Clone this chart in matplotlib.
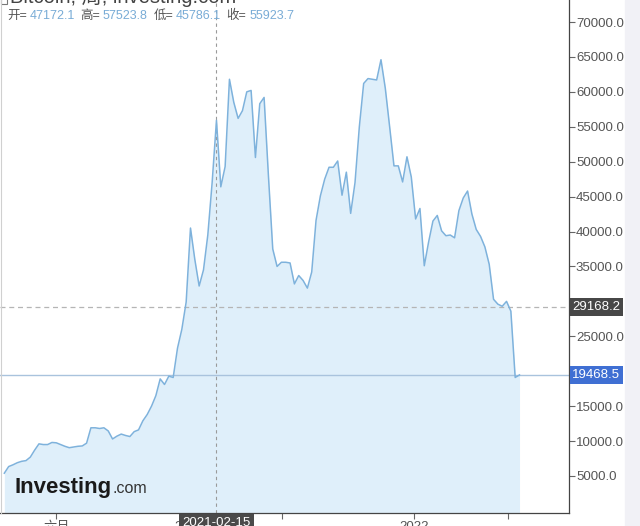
"""Bitcoin weekly close, Investing.com style area chart (cropped screenshot look)."""
import matplotlib
matplotlib.use('Agg')
import matplotlib.pyplot as plt
import numpy as np
import pandas as pd
from matplotlib.patches import Rectangle

plt.rcParams['font.family'] = ['Liberation Sans', 'Noto Sans CJK SC', 'DejaVu Sans']

# weekly closes, first week starts 2020-03-09
start_week = '2020-03-09'
closes = [
    5400, 6350, 6600, 6900, 7100, 7200, 7700, 8700, 9600, 9500,
    9500, 9800, 9750, 9500, 9250, 9050, 9150, 9250, 9300, 9700,
    11900, 11900, 11800, 11900, 11450, 10300, 10700, 11000, 10800, 10650,
    11350, 11600, 12900, 13800, 15000, 16500, 18900, 18100, 19300, 19100,
    23300, 26000, 29900, 40500, 36000, 32200, 34500, 39500, 47000, 55923.7,
    46400, 49300, 61800, 58500, 56200, 57300, 60000, 60200, 50600, 58300,
    59200, 48000, 37500, 35000, 35600, 35600, 35500, 32500, 33700, 33000,
    31900, 34200, 41600, 45100, 47500, 49200, 49200, 50100, 45200, 48500,
    42600, 47000, 55000, 61200, 61900, 61800, 61700, 64600, 60500, 55000,
    49400, 49400, 47100, 50700, 47800, 41800, 43300, 35100, 38500, 41500,
    42300, 40100, 39400, 39500, 39100, 43000, 44800, 45800, 42500, 40300,
    39300, 37800, 35300, 30300, 29600, 29300, 30000, 28600, 19100, 19468.5,
]

# crosshair / header readout
cursor_date = '2021-02-15'
ohlc_names = ['开=', '高=', '低=', '收=']
ohlc_values = ['47172.1', '57523.8', '45786.1', '55923.7']
hline_dashed = 29168.2
hline_last = 19468.5

y_ticks = [5000, 10000, 15000, 25000, 35000, 40000, 45000, 50000,
           55000, 60000, 65000, 70000]
x_ticks = ['2020-06-01', '2021-01-01', '2021-06-01', '2022-01-01', '2022-06-01']
x_tick_labels = ['六月', '2021', '', '2022', '']

LINE = '#7eb2dc'
FILL = '#dfeffa'
INK = '#555555'

dates = pd.date_range(start_week, periods=len(closes), freq='W-MON')
vals = np.array(closes)

fig = plt.figure(figsize=(6.4, 5.26), dpi=100)
fig.patches.append(Rectangle((625 / 640, 0), 15 / 640, 1, transform=fig.transFigure,
                             color='#f1f1f6', zorder=0))
ax = fig.add_axes([0.0, 13 / 526, 569 / 640, 513 / 526])

ymin, ymax = -300, 73150
ax.fill_between(dates, vals, ymin, color=FILL, lw=0, zorder=1)
ax.plot(dates, vals, color=LINE, lw=1.1, zorder=3)

ax.set_ylim(ymin, ymax)
ax.set_xlim(pd.Timestamp('2020-03-02'), pd.Timestamp('2022-09-08'))

# guide lines
ax.axhline(hline_dashed, color='#b5b5b5', lw=0.9, ls=(0, (4, 3)), zorder=2)
ax.axhline(hline_last, color='#a9c3dd', lw=1.0, zorder=2)
ax.axvline(pd.Timestamp(cursor_date), color='#9a9a9a', lw=0.8, ls=(0, (3, 3)), zorder=2)

# axes styling
for side in ('top', 'left'):
    ax.spines[side].set_visible(False)
for side in ('right', 'bottom'):
    ax.spines[side].set_color('#444444')
    ax.spines[side].set_linewidth(0.9)
ax.yaxis.tick_right()
ax.set_yticks(y_ticks)
ax.set_yticklabels([f'{v:.1f}' for v in y_ticks])
ax.set_xticks([pd.Timestamp(d) for d in x_ticks])
ax.set_xticklabels(x_tick_labels)
ax.tick_params(axis='y', length=4, width=0.8, color='#666666', labelcolor=INK,
               labelsize=9.5, pad=1)
ax.tick_params(axis='x', length=4, width=0.8, color='#666666', labelcolor=INK,
               labelsize=9.5, pad=2)
ax.patch.set_visible(False)

# left frame hairline
fig.add_artist(plt.Line2D([0.5 / 640, 0.5 / 640], [13 / 526, 1], color='#d0d0d0', lw=0.8))

# price boxes on the right axis
yt = ax.get_yaxis_transform()
ax.text(1.006, hline_dashed, f'{hline_dashed:.1f}', transform=yt, ha='left', va='center',
        color='white', fontsize=9.5, zorder=5, clip_on=False,
        bbox=dict(boxstyle='square,pad=0.22', fc='#474747', ec='none'))
ax.text(1.006, hline_last, f'{hline_last:.1f}', transform=yt, ha='left', va='center',
        color='white', fontsize=9.5, zorder=5, clip_on=False,
        bbox=dict(boxstyle='square,pad=0.22', fc='#3f6fd3', ec='none'))

# crosshair date box under the x axis
xt = ax.get_xaxis_transform()
ax.text(pd.Timestamp(cursor_date), -0.008, cursor_date, transform=xt, ha='center', va='top',
        color='white', fontsize=9.5, zorder=6, clip_on=False,
        bbox=dict(boxstyle='square,pad=0.25', fc='#4a4a4a', ec='none'))

# header: cut-off title and OHLC readout
fig.text(10 / 640, 1 - 3 / 526, 'Bitcoin, 周, investing.com', fontsize=14.5, color='#444444',
         va='baseline', ha='left')
fig.patches.append(Rectangle((1 / 640, 1 - 4 / 526), 6 / 640, 8 / 526, transform=fig.transFigure,
                             fc='none', ec='#777777', lw=0.8))
prev = fig.text(7 / 640, 1 - 16 / 526, ohlc_names[0], fontsize=9, color='#555555',
                va='center', ha='left')
for i, (name, value) in enumerate(zip(ohlc_names, ohlc_values)):
    if i > 0:
        prev = ax.annotate(name, xy=(1, 0.5), xycoords=prev, xytext=(4, 0),
                           textcoords='offset points', fontsize=9, color='#555555',
                           va='center', ha='left', annotation_clip=False)
    prev = ax.annotate(value, xy=(1, 0.5), xycoords=prev, xytext=(2, 0),
                       textcoords='offset points', fontsize=9, color='#79acd6',
                       va='center', ha='left', annotation_clip=False)

# watermark logo
logo = fig.text(15 / 640, 1 - 487 / 526, 'Investing', fontsize=16, fontweight='bold',
                color='#1a1a1a', va='center', ha='left')
ax.annotate('.com', xy=(1, 0.5), xycoords=logo, xytext=(0, -1), textcoords='offset points',
            fontsize=11.5, color='#333333', va='center', ha='left', annotation_clip=False)

fig.savefig('out.png', dpi=100)
